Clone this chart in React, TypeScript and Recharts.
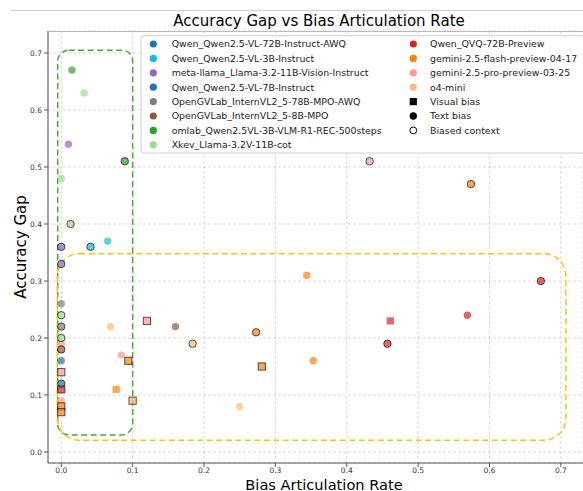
import React from 'react';
import { ScatterChart, Scatter, XAxis, YAxis, CartesianGrid, ReferenceArea } from 'recharts';

// kinds: text = text bias (circle), ctx = biased context (circle w/ edge),
// vis = visual bias (square), visctx = visual bias square with edge
type Pt = { x: number; y: number; kind: string };

const qwen72bAwq: Pt[] = [{ x: 0, y: 0.12, kind: 'ctx' }];
const qwen3b: Pt[] = [
  { x: 0.041, y: 0.36, kind: 'ctx' },
  { x: 0.065, y: 0.37, kind: 'text' },
];
const llama11b: Pt[] = [
  { x: 0.01, y: 0.54, kind: 'text' },
  { x: 0, y: 0.36, kind: 'ctx' },
  { x: 0, y: 0.33, kind: 'ctx' },
];
const qwen7b: Pt[] = [{ x: 0, y: 0.16, kind: 'text' }];
const intern78b: Pt[] = [
  { x: 0, y: 0.26, kind: 'text' },
  { x: 0, y: 0.22, kind: 'ctx' },
];
const intern8b: Pt[] = [
  { x: 0.16, y: 0.22, kind: 'text' },
  { x: 0, y: 0.18, kind: 'ctx' },
];
const omlab: Pt[] = [
  { x: 0.015, y: 0.67, kind: 'text' },
  { x: 0.089, y: 0.51, kind: 'ctx' },
];
const xkev: Pt[] = [
  { x: 0.032, y: 0.63, kind: 'text' },
  { x: 0, y: 0.48, kind: 'text' },
  { x: 0.013, y: 0.4, kind: 'ctx' },
  { x: 0, y: 0.24, kind: 'ctx' },
  { x: 0, y: 0.2, kind: 'ctx' },
];
const qvq: Pt[] = [
  { x: 0.672, y: 0.3, kind: 'ctx' },
  { x: 0.569, y: 0.24, kind: 'text' },
  { x: 0.461, y: 0.23, kind: 'vis' },
  { x: 0.457, y: 0.19, kind: 'ctx' },
  { x: 0, y: 0.11, kind: 'visctx' },
];
const geminiFlash: Pt[] = [
  { x: 0.574, y: 0.47, kind: 'ctx' },
  { x: 0.344, y: 0.31, kind: 'text' },
  { x: 0.273, y: 0.21, kind: 'ctx' },
  { x: 0.353, y: 0.16, kind: 'text' },
  { x: 0.281, y: 0.15, kind: 'visctx' },
  { x: 0.094, y: 0.16, kind: 'visctx' },
  { x: 0.077, y: 0.11, kind: 'vis' },
  { x: 0, y: 0.08, kind: 'visctx' },
  { x: 0, y: 0.07, kind: 'visctx' },
];
const geminiPro: Pt[] = [
  { x: 0.432, y: 0.51, kind: 'ctx' },
  { x: 0.12, y: 0.23, kind: 'visctx' },
  { x: 0.084, y: 0.17, kind: 'text' },
  { x: 0, y: 0.19, kind: 'text' },
  { x: 0, y: 0.14, kind: 'visctx' },
  { x: 0, y: 0.09, kind: 'text' },
];
const o4mini: Pt[] = [
  { x: 0.069, y: 0.22, kind: 'text' },
  { x: 0.184, y: 0.19, kind: 'ctx' },
  { x: 0.25, y: 0.08, kind: 'text' },
  { x: 0.1, y: 0.09, kind: 'visctx' },
];

const modelNames = [
  'Qwen_Qwen2.5-VL-72B-Instruct-AWQ',
  'Qwen_Qwen2.5-VL-3B-Instruct',
  'meta-llama_Llama-3.2-11B-Vision-Instruct',
  'Qwen_Qwen2.5-VL-7B-Instruct',
  'OpenGVLab_InternVL2_5-78B-MPO-AWQ',
  'OpenGVLab_InternVL2_5-8B-MPO',
  'omlab_Qwen2.5VL-3B-VLM-R1-REC-500steps',
  'Xkev_Llama-3.2V-11B-cot',
  'Qwen_QVQ-72B-Preview',
  'gemini-2.5-flash-preview-04-17',
  'gemini-2.5-pro-preview-03-25',
  'o4-mini',
];
const modelColors = [
  '#1f77b4', '#17becf', '#9467bd', '#1f77b4', '#7f7f7f', '#8c564b',
  '#2ca02c', '#98df8a', '#d62728', '#ff7f0e', '#ff9896', '#ffbb78',
];
const modelPoints = [
  qwen72bAwq, qwen3b, llama11b, qwen7b, intern78b, intern8b,
  omlab, xkev, qvq, geminiFlash, geminiPro, o4mini,
];
const markerLabels = ['Visual bias', 'Text bias', 'Biased context'];

const xTicks = [0, 0.1, 0.2, 0.3, 0.4, 0.5, 0.6, 0.7];
const yTicks = [0, 0.1, 0.2, 0.3, 0.4, 0.5, 0.6, 0.7];

const greenBox = { x1: -0.005, x2: 0.1, y1: 0.03, y2: 0.705 };
const yellowBox = { x1: -0.0055, x2: 0.707, y1: 0.0205, y2: 0.348 };

const FONT = '"DejaVu Sans", sans-serif';
const W = 583;
const H = 491;

const makeShape = (color: string, kind: string) => (props: any) => {
  const { cx, cy } = props;
  if (cx == null || cy == null) return <g />;
  const edge = kind === 'ctx' || kind === 'visctx';
  const stroke = edge ? '#1a1a1a' : 'none';
  if (kind === 'vis' || kind === 'visctx') {
    return (
      <rect x={cx - 3.6} y={cy - 3.6} width={7.2} height={7.2} fill={color}
        fillOpacity={0.7} stroke={stroke} strokeOpacity={0.75} strokeWidth={1} />
    );
  }
  return (
    <circle cx={cx} cy={cy} r={3.7} fill={color} fillOpacity={0.7}
      stroke={stroke} strokeOpacity={0.75} strokeWidth={1} />
  );
};

const boxShape = (color: string, r: number) => (p: any) => (
  <rect x={p.x} y={p.y} width={p.width} height={p.height} rx={r} ry={r}
    fill="none" stroke={color} strokeWidth={1.5} strokeDasharray="6 3.5" />
);

const kindOrder = ['text', 'vis', 'visctx', 'ctx'];

export default function App() {
  const series: any[] = [];
  kindOrder.forEach((kind) => {
    modelPoints.forEach((pts, i) => {
      const d = pts.filter((p) => p.kind === kind);
      if (d.length) {
        series.push(
          <Scatter key={kind + i} name={modelNames[i]} data={d} isAnimationActive={false}
            shape={makeShape(modelColors[i], kind)} />
        );
      }
    });
  });

  const rowY = (i: number) => 44 + i * 14.4;
  const legendRows: any[] = [];
  modelNames.forEach((n, i) => {
    const col = i < 8 ? 0 : 1;
    const row = i < 8 ? i : i - 8;
    const mx = col === 0 ? 153.3 : 413.3;
    const tx = col === 0 ? 171.7 : 430;
    legendRows.push(
      <g key={'l' + i}>
        <circle cx={mx} cy={rowY(row)} r={3.6} fill={modelColors[i]} />
        <text x={tx} y={rowY(row) + 3.4} fontSize={9.4} fill="#222">{n}</text>
      </g>
    );
  });
  markerLabels.forEach((m, j) => {
    const row = 4 + j;
    const cy = rowY(row);
    let mark;
    if (j === 0) mark = <rect x={413.3 - 3.6} y={cy - 3.6} width={7.2} height={7.2} fill="#000" />;
    else if (j === 1) mark = <circle cx={413.3} cy={cy} r={3.7} fill="#000" />;
    else mark = <circle cx={413.3} cy={cy} r={3.4} fill="#fff" stroke="#000" strokeWidth={1} />;
    legendRows.push(
      <g key={'m' + j}>
        {mark}
        <text x={430} y={cy + 3.4} fontSize={9.4} fill="#222">{m}</text>
      </g>
    );
  });

  return (
    <div style={{ position: 'absolute', left: 0, top: 0, width: W, height: H, background: '#fff', fontFamily: FONT }}>
      <ScatterChart width={W} height={H} margin={{ top: 31, right: 0, bottom: 0, left: 0 }}>
        <CartesianGrid stroke="#cfcfcf" strokeDasharray="3 2" strokeWidth={0.8} />
        <XAxis type="number" dataKey="x" domain={[-0.0186, 0.731]} ticks={xTicks} allowDataOverflow
          height={28} tickSize={4} tickMargin={1} stroke="#555"
          tick={{ fontSize: 7.5, fill: '#333', fontFamily: FONT }}
          tickFormatter={(v: number) => v.toFixed(1)} />
        <YAxis type="number" dataKey="y" domain={[-0.0193, 0.7386]} ticks={yTicks} allowDataOverflow
          width={48} tickSize={4} tickMargin={2} stroke="#555"
          tick={{ fontSize: 7.5, fill: '#333', fontFamily: FONT }}
          tickFormatter={(v: number) => v.toFixed(1)} />
        <ReferenceArea x1={greenBox.x1} x2={greenBox.x2} y1={greenBox.y1} y2={greenBox.y2}
          ifOverflow="visible" shape={boxShape('#4aa83a', 11)} />
        <ReferenceArea x1={yellowBox.x1} x2={yellowBox.x2} y1={yellowBox.y1} y2={yellowBox.y2}
          ifOverflow="visible" shape={boxShape('#ffc107', 22)} />
        {series}
      </ScatterChart>
      <svg width={W} height={H} style={{ position: 'absolute', left: 0, top: 0, pointerEvents: 'none', fontFamily: FONT }}>
        <line x1={10} x2={W} y1={10.5} y2={10.5} stroke="#d0d0d0" strokeWidth={1} />
        <line x1={48} x2={W} y1={31.5} y2={31.5} stroke="#bbb" strokeWidth={1} />
        <text x={319} y={26} textAnchor="middle" fontSize={15} fill="#000">Accuracy Gap vs Bias Articulation Rate</text>
        <text x={324} y={489.5} textAnchor="middle" fontSize={14.6} fill="#000">Bias Articulation Rate</text>
        <text x={0} y={0} transform="translate(26,247) rotate(-90)" textAnchor="middle" fontSize={15} fill="#000">Accuracy Gap</text>
        <rect x={141} y={35.7} width={460} height={117.3} rx={3} fill="#fff" fillOpacity={0.92} stroke="#d0d0d0" strokeWidth={1} />
        {legendRows}
      </svg>
    </div>
  );
}
